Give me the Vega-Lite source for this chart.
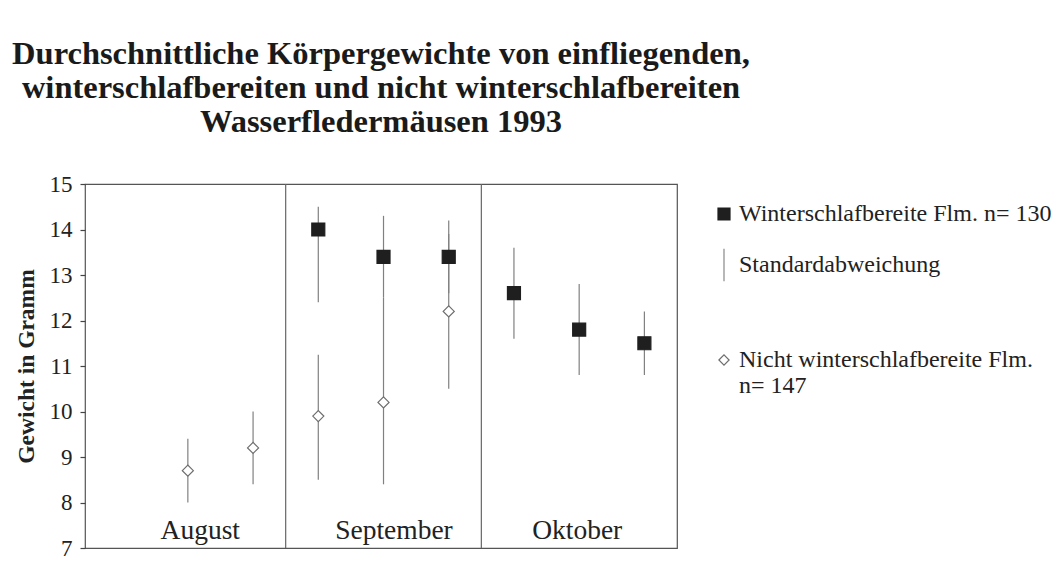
{
  "$schema": "https://vega.github.io/schema/vega-lite/v6.json",
  "width": 592,
  "height": 364,
  "padding": {"left": 12, "top": 37, "right": 5, "bottom": 5},
  "background": "#ffffff",
  "title": {
    "text": ["Durchschnittliche Körpergewichte von einfliegenden,", "winterschlafbereiten und nicht winterschlafbereiten", "Wasserfledermäusen 1993"],
    "font": "Liberation Serif",
    "fontWeight": "bold",
    "fontSize": 32.5,
    "lineHeight": 34,
    "color": "#1a1a1a",
    "anchor": "middle",
    "frame": "group",
    "offset": 35
  },
  "config": {
    "view": {"stroke": "#555555", "strokeWidth": 1.2},
    "font": "Liberation Serif"
  },
  "layer": [
    {
      "data": {"values": [{"d": 3}, {"d": 6}]},
      "mark": {"type": "rule", "color": "#666666", "strokeWidth": 1.2},
      "encoding": {
        "x": {"field": "d", "type": "quantitative", "scale": {"domain": [-0.077, 9.0], "nice": false, "zero": false}, "axis": null}
      }
    },
    {
      "data": {"name": "stats"},
      "mark": {"type": "rule", "color": "#808080", "strokeWidth": 1.2},
      "encoding": {
        "x": {"field": "pos", "type": "quantitative"},
        "y": {"field": "lo", "type": "quantitative"},
        "y2": {"field": "hi"}
      }
    },
    {
      "data": {"name": "stats"},
      "mark": {"type": "point", "size": 169, "strokeWidth": 1.2, "opacity": 1},
      "encoding": {
        "x": {"field": "pos", "type": "quantitative"},
        "y": {
          "field": "mean",
          "type": "quantitative",
          "scale": {"domain": [7, 15], "nice": false, "zero": false},
          "axis": {
            "values": [7, 8, 9, 10, 11, 12, 13, 14, 15],
            "grid": false,
            "domain": false,
            "tickSize": 5,
            "tickColor": "#444444",
            "tickWidth": 1.2,
            "labelPadding": 8,
            "labelFont": "Liberation Serif",
            "labelFontSize": 23,
            "labelColor": "#222222",
            "title": "Gewicht in Gramm",
            "titleFont": "Liberation Serif",
            "titleFontSize": 23.5,
            "titleFontWeight": "bold",
            "titleColor": "#222222",
            "titlePadding": 11
          }
        },
        "shape": {
          "field": "g",
          "type": "nominal",
          "scale": {"domain": ["W", "S", "B", "N"], "range": ["square", "M0,-2.7L0,2.7", "circle", "M-0.85,0L0,-0.85L0.85,0L0,0.85Z"]},
          "legend": {
            "orient": "none",
            "legendX": 627,
            "legendY": 18,
            "title": null,
            "symbolSize": 144,
            "symbolStrokeWidth": 1.2,
            "labelFont": "Liberation Serif",
            "labelFontSize": 24,
            "labelColor": "#222222",
            "labelOffset": 3,
            "labelLimit": 400,
            "rowPadding": 20,
            "labelExpr": "datum.value == 'W' ? 'Winterschlafbereite Flm. n= 130' : datum.value == 'S' ? 'Standardabweichung' : datum.value == 'N' ? ['Nicht winterschlafbereite Flm.', 'n= 147'] : ''"
          }
        },
        "fill": {
          "field": "g",
          "type": "nominal",
          "scale": {"domain": ["W", "S", "B", "N"], "range": ["#1f1f1f", "transparent", "transparent", "#ffffff"]}
        },
        "stroke": {
          "field": "g",
          "type": "nominal",
          "scale": {"domain": ["W", "S", "B", "N"], "range": ["#1f1f1f", "#888888", "transparent", "#6e6e6e"]}
        }
      }
    },
    {
      "data": {"values": [{"month": "August", "mpos": 1.69}, {"month": "September", "mpos": 4.66}, {"month": "Oktober", "mpos": 7.47}]},
      "mark": {"type": "text", "font": "Liberation Serif", "fontSize": 27.5, "color": "#222222", "baseline": "alphabetic", "align": "center"},
      "encoding": {
        "x": {"field": "mpos", "type": "quantitative"},
        "y": {"datum": 7.2, "type": "quantitative"},
        "text": {"field": "month"}
      }
    }
  ],
  "datasets": {
    "stats": [
      {"g": "W", "pos": 3.5, "mean": 14.0, "lo": 12.4, "hi": 14.5},
      {"g": "W", "pos": 4.5, "mean": 13.4, "lo": 12.5, "hi": 14.3},
      {"g": "W", "pos": 5.5, "mean": 13.4, "lo": 12.6, "hi": 14.2},
      {"g": "W", "pos": 6.5, "mean": 12.6, "lo": 11.6, "hi": 13.6},
      {"g": "W", "pos": 7.5, "mean": 11.8, "lo": 10.8, "hi": 12.8},
      {"g": "W", "pos": 8.5, "mean": 11.5, "lo": 10.8, "hi": 12.2},
      {"g": "N", "pos": 1.5, "mean": 8.7, "lo": 8.0, "hi": 9.4},
      {"g": "N", "pos": 2.5, "mean": 9.2, "lo": 8.4, "hi": 10.0},
      {"g": "N", "pos": 3.5, "mean": 9.9, "lo": 8.5, "hi": 11.25},
      {"g": "N", "pos": 4.5, "mean": 10.2, "lo": 8.4, "hi": 12.5},
      {"g": "N", "pos": 5.5, "mean": 12.2, "lo": 10.5, "hi": 13.9}
    ]
  }
}
